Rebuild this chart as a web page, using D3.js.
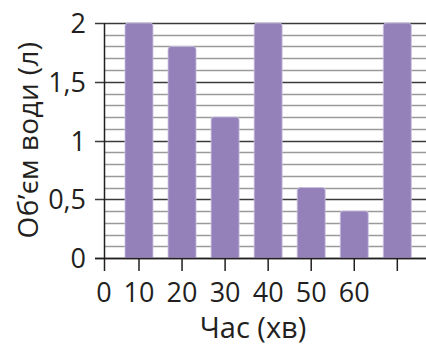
<!DOCTYPE html>
<html>
<head>
<meta charset="utf-8">
<script src="https://cdn.jsdelivr.net/npm/d3@7"></script>
<style>
  html, body { margin: 0; padding: 0; background: #fff; }
  text { font-family: "Open Sans", "Noto Sans", sans-serif; fill: #231f20; }
</style>
</head>
<body>
<div class="svg-container"></div>
<script>
// chart data
const times = ["10", "20", "30", "40", "50", "60", "70"];
const volumes = [2, 1.8, 1.2, 2, 0.6, 0.4, 2];
const xTickLabels = ["0", "10", "20", "30", "40", "50", "60", ""];
const yTicks = [0, 0.5, 1, 1.5, 2];
const yTickLabels = ["0", "0,5", "1", "1,5", "2"];

let width = 426;
let height = 345;
let svg = d3.select(".svg-container")
    .append("svg")
    .attr("width", width)
    .attr("height", height);

let x0 = 104;          // y axis position
let y = d3.scaleLinear().domain([0, 2]).range([258, 23]);
let x = d3.scaleBand().domain(times).range([125, 411.3]).paddingInner(0.35).paddingOuter(0);

// gridlines every 0.1
let minor = d3.range(0, 21).map(d => d / 10);
svg.append("g").selectAll("line")
    .data(minor.filter(d => Math.round(d * 10) % 5 !== 0))
    .enter().append("line")
    .attr("x1", x0).attr("x2", width)
    .attr("y1", d => Math.round(y(d)) + 0.5).attr("y2", d => Math.round(y(d)) + 0.5)
    .attr("stroke", "#9a9a9a").attr("stroke-width", 1.3);
svg.append("g").selectAll("line")
    .data(yTicks)
    .enter().append("line")
    .attr("x1", x0 - 9).attr("x2", width)
    .attr("y1", d => Math.round(y(d)) + 0.5).attr("y2", d => Math.round(y(d)) + 0.5)
    .attr("stroke", "#3a3a3a").attr("stroke-width", 1.5);

// bars
svg.append("g").selectAll("path")
    .data(volumes)
    .enter().append("path")
    .attr("d", (d, i) => {
        let bx = x(times[i]), bw = x.bandwidth(), top = y(d), bot = y(0), r = 3;
        return "M" + bx + "," + bot + "V" + (top + r) + "Q" + bx + "," + top + " " + (bx + r) + "," + top +
            "H" + (bx + bw - r) + "Q" + (bx + bw) + "," + top + " " + (bx + bw) + "," + (top + r) + "V" + bot + "Z";
    })
    .attr("fill", "#9481ba")
    .attr("stroke", "#c9bfe0").attr("stroke-width", 0.8);

// axes
svg.append("line").attr("x1", x0 + 0.5).attr("x2", x0 + 0.5)
    .attr("y1", y(2)).attr("y2", y(0) + 13)
    .attr("stroke", "#231f20").attr("stroke-width", 1.5);
svg.append("line").attr("x1", x0 - 9).attr("x2", width)
    .attr("y1", Math.round(y(0)) + 0.5).attr("y2", Math.round(y(0)) + 0.5)
    .attr("stroke", "#231f20").attr("stroke-width", 1.5);

let tickPos = [x0].concat(times.map(t => x(t) + x.bandwidth() / 2));
svg.append("g").selectAll("line")
    .data(tickPos.slice(1))
    .enter().append("line")
    .attr("x1", d => d).attr("x2", d => d)
    .attr("y1", y(0)).attr("y2", y(0) + 13)
    .attr("stroke", "#231f20").attr("stroke-width", 1.5);

svg.append("g").selectAll("text")
    .data(xTickLabels)
    .enter().append("text")
    .attr("x", (d, i) => tickPos[i])
    .attr("y", 302)
    .attr("text-anchor", "middle")
    .attr("font-size", "27px")
    .text(d => d);

svg.append("g").selectAll("text")
    .data(yTicks)
    .enter().append("text")
    .attr("x", 86)
    .attr("y", d => y(d) + 10)
    .attr("text-anchor", "end")
    .attr("font-size", "27px")
    .text((d, i) => yTickLabels[i]);

// titles
svg.append("text")
    .attr("x", 253).attr("y", 338)
    .attr("text-anchor", "middle")
    .attr("font-size", "29px")
    .text("Час (хв)");
svg.append("text")
    .attr("transform", "translate(38,140) rotate(-90)")
    .attr("text-anchor", "middle")
    .attr("font-size", "28px")
    .attr("letter-spacing", "0.4px")
    .text("Об’єм води (л)");
</script>
</body>
</html>
